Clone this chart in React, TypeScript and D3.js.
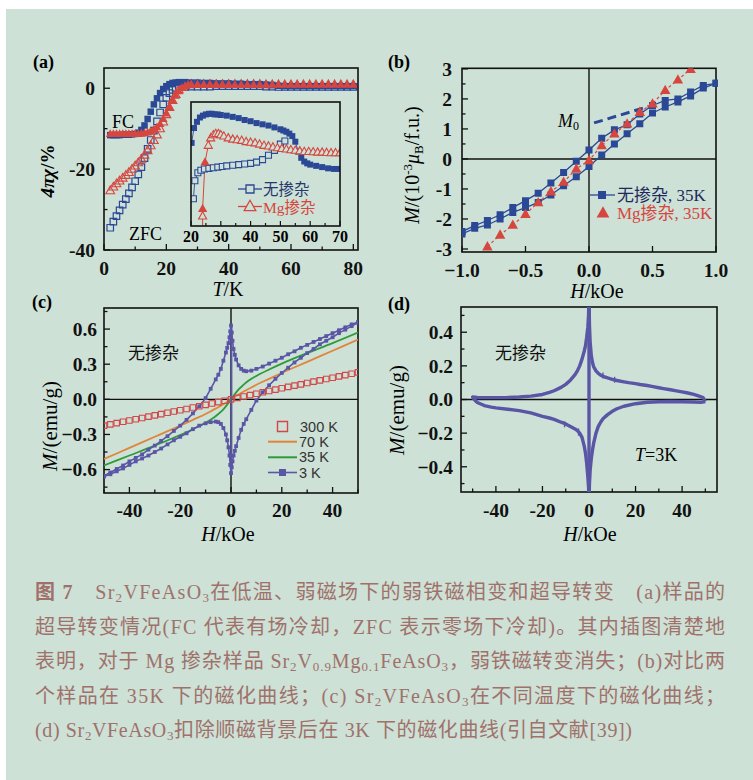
import React from "react";
import * as d3 from "d3";

// ---------- (a) 4πχ vs T ----------
const aNoneFcT = [2, 3, 4, 5, 6, 7, 8, 9, 10, 11, 12, 13, 14, 15, 16, 17, 18, 19, 20, 21, 22, 23, 24, 26, 28, 30, 32, 34, 36, 38, 40, 42, 44, 46, 48, 50, 52, 54, 56, 58, 60, 62, 64, 66, 68, 70, 72, 74, 76, 78, 80];
const aNoneFcV = [-11.6, -11.6, -11.6, -11.6, -11.5, -11.5, -11.5, -11.4, -11.3, -11, -10.3, -9.2, -7.6, -5.8, -4, -2.5, -1.2, -0.2, 0.5, 1, 1.3, 1.4, 1.5, 1.5, 1.4, 1.4, 1.3, 1.3, 1.2, 1.2, 1.2, 1.1, 1.1, 1, 1, 1, 0.9, 0.8, 0.6, 0.5, 0.5, 0.5, 0.5, 0.5, 0.5, 0.5, 0.5, 0.5, 0.5, 0.5, 0.5];
const aNoneZfcT = [2, 3, 4, 5, 6, 7, 8, 9, 10, 11, 12, 13, 14, 15, 16, 17, 18, 19, 20, 21, 22, 23, 24, 26, 28, 30, 32, 34, 36, 38, 40, 42, 44, 46, 48, 50, 52, 54, 56, 58, 60, 62, 64, 66, 68, 70, 72, 74, 76, 78, 80];
const aNoneZfcV = [-34.5, -33, -31.6, -30.2, -28.8, -27.4, -26, -24.5, -23, -21.3, -19.5, -17.3, -15, -12.8, -10.5, -8.2, -6, -4, -2.4, -1.2, -0.4, 0.1, 0.3, 0.3, 0.4, 0.4, 0.4, 0.4, 0.5, 0.5, 0.5, 0.5, 0.5, 0.5, 0.5, 0.5, 0.4, 0.4, 0.3, 0.3, 0.3, 0.3, 0.3, 0.3, 0.3, 0.3, 0.3, 0.3, 0.3, 0.3, 0.3];
const aMgFcT = [2, 3, 4, 5, 6, 7, 8, 9, 10, 11, 12, 13, 14, 15, 16, 17, 18, 19, 20, 21, 22, 23, 24, 25, 26, 27, 28, 30, 32, 34, 36, 38, 40, 42, 44, 46, 48, 50, 52, 54, 56, 58, 60, 62, 64, 66, 68, 70, 72, 74, 76, 78, 80];
const aMgFcV = [-11.3, -11.3, -11.3, -11.3, -11.3, -11.3, -11.3, -11.3, -11.3, -11.3, -11.2, -11.1, -10.9, -10.6, -10.2, -9.6, -8.8, -7.6, -6.2, -4.6, -3.1, -1.8, -0.7, 0.1, 0.6, 0.9, 1, 1, 1, 1, 1, 1, 1, 0.9, 0.9, 0.9, 0.9, 0.9, 0.9, 0.9, 0.9, 0.9, 0.9, 0.9, 0.9, 0.9, 0.9, 0.9, 0.9, 0.9, 0.9, 0.9, 0.9];
const aMgZfcT = [2, 3, 4, 5, 6, 7, 8, 9, 10, 11, 12, 13, 14, 15, 16, 17, 18, 19, 20, 21, 22, 23, 24, 25, 26, 27, 28, 30, 32, 34, 36, 38, 40, 42, 44, 46, 48, 50, 52, 54, 56, 58, 60, 62, 64, 66, 68, 70, 72, 74, 76, 78, 80];
const aMgZfcV = [-25.3, -24.4, -23.6, -22.9, -22.2, -21.5, -20.8, -20, -19.2, -18.4, -17.5, -16.5, -15.4, -14.2, -12.9, -11.5, -10, -8.3, -6.5, -4.7, -3, -1.5, -0.4, 0.3, 0.7, 0.9, 1, 1, 1, 1, 1, 1, 1, 1, 1, 1, 1, 1, 0.9, 0.9, 0.9, 0.9, 0.9, 0.9, 0.9, 0.9, 0.9, 0.9, 0.9, 0.9, 0.9, 0.9, 0.9];
const aXTicks = [0, 20, 40, 60, 80];
const aYTicks = [0, -20, -40];

// inset (arbitrary units)
const inNoneFcT = [20.2, 21, 22, 23, 24, 25, 26, 27, 28, 29, 30, 32, 34, 36, 38, 40, 42, 44, 46, 48, 50, 51, 52, 53, 54, 55, 56, 57, 58, 59, 60, 62, 64, 66, 68, 70];
const inNoneFcV = [6.7, 7.9, 8.4, 8.75, 8.9, 9, 9.05, 9.05, 9, 9, 8.95, 8.9, 8.8, 8.7, 8.55, 8.45, 8.3, 8.2, 8.1, 7.95, 7.8, 7.7, 7.6, 7.45, 7.25, 6.8, 6, 5.5, 5.2, 5.05, 4.95, 4.85, 4.75, 4.65, 4.6, 4.6];
const inNoneZfcT = [20.8, 21.3, 22.3, 23.3, 24.5, 26, 27.5, 29, 30.5, 32, 34, 36, 38, 40, 42, 44, 46, 48, 50, 51.5];
const inNoneZfcV = [2.2, 3.65, 4.3, 4.5, 4.6, 4.65, 4.7, 4.75, 4.8, 4.85, 4.9, 4.95, 5, 5.05, 5.15, 5.35, 5.7, 6.1, 6.6, 6.85];
const inMgZfcT = [23.9, 25.8, 26.6, 27.5, 28.3, 29.2, 30, 31, 32.5, 34, 35.5, 37, 38.5, 40, 41.5, 43, 44.5, 46, 47.5, 49, 50.5, 52, 53.5, 55, 56.5, 58, 59.5, 61, 62.5, 64, 65.5, 67, 68.5, 70];
const inMgZfcV = [0.8, 6.5, 7.1, 7.35, 7.45, 7.45, 7.35, 7.25, 7.1, 7, 6.95, 6.9, 6.8, 6.75, 6.7, 6.6, 6.5, 6.45, 6.37, 6.3, 6.25, 6.2, 6.15, 6.1, 6.05, 6, 6, 5.98, 5.95, 5.95, 5.92, 5.9, 5.9, 5.9];
const inMgFcT = [23.9, 24.7];
const inMgFcV = [1.4, 5.15];
const inXTicks = [20, 30, 40, 50, 60, 70];

// ---------- (b) M vs H at 35 K ----------
const bNoneUpH = [1.0, 0.9, 0.8, 0.7, 0.6, 0.5, 0.4, 0.3, 0.2, 0.1, 0.0, -0.1, -0.2, -0.3, -0.4, -0.5, -0.6, -0.7, -0.8, -0.9, -1.0];
const bNoneUpM = [2.52, 2.45, 2.23, 2.0, 1.95, 1.78, 1.5, 1.14, 0.97, 0.69, 0.3, -0.08, -0.45, -0.8, -1.14, -1.39, -1.62, -1.86, -2.05, -2.22, -2.42];
const bNoneDnH = [-1.0, -0.9, -0.8, -0.7, -0.6, -0.5, -0.4, -0.3, -0.2, -0.1, 0.0, 0.1, 0.2, 0.3, 0.4, 0.5, 0.6, 0.7, 0.8, 0.9, 1.0];
const bNoneDnM = [-2.5, -2.31, -2.2, -2.0, -1.78, -1.62, -1.45, -1.2, -0.89, -0.59, -0.25, 0.13, 0.5, 0.84, 1.17, 1.53, 1.73, 1.9, 2.1, 2.36, 2.52];
const bMgH = [-0.8, -0.7, -0.6, -0.5, -0.4, -0.3, -0.2, -0.1, 0.0, 0.1, 0.2, 0.3, 0.4, 0.5, 0.6, 0.7, 0.8];
const bMgM = [-2.92, -2.53, -2.2, -1.84, -1.45, -1.09, -0.77, -0.33, -0.05, 0.45, 0.84, 1.17, 1.56, 1.84, 2.29, 2.64, 2.99];
const bM0H = [0.04, 0.47];
const bM0M = [1.2, 1.75];
const bXTicks = [-1, -0.5, 0, 0.5, 1];
const bYTicks = [-3, -2, -1, 0, 1, 2, 3];

// ---------- (c) M vs H, several temperatures ----------
const c300H = [-50, -47.5, -45, -42.5, -40, -37.5, -35, -32.5, -30, -27.5, -25, -22.5, -20, -17.5, -15, -12.5, -10, -7.5, -5, -2.5, 0, 2.5, 5, 7.5, 10, 12.5, 15, 17.5, 20, 22.5, 25, 27.5, 30, 32.5, 35, 37.5, 40, 42.5, 45, 47.5, 50];
const c300M = [-0.225, -0.214, -0.203, -0.192, -0.181, -0.17, -0.159, -0.148, -0.137, -0.126, -0.115, -0.104, -0.093, -0.082, -0.07, -0.059, -0.047, -0.035, -0.024, -0.012, 0, 0.012, 0.024, 0.036, 0.048, 0.06, 0.071, 0.083, 0.094, 0.106, 0.117, 0.128, 0.14, 0.151, 0.162, 0.173, 0.184, 0.196, 0.207, 0.218, 0.23];
const c70H = [-50, -40, -30, -20, -15, -10, -7, -5, -3, -1.5, 0, 1.5, 3, 5, 7, 10, 15, 20, 30, 40, 50];
const c70M = [-0.51, -0.415, -0.32, -0.225, -0.175, -0.125, -0.09, -0.067, -0.042, -0.022, 0, 0.022, 0.042, 0.067, 0.09, 0.125, 0.175, 0.225, 0.32, 0.415, 0.51];
const c35H = [-50, -40, -30, -20, -15, -10, -7, -5, -3, -1.5, 0, 1.5, 3, 5, 7, 10, 15, 20, 30, 40, 50];
const c35M = [-0.565, -0.48, -0.395, -0.305, -0.255, -0.2, -0.16, -0.125, -0.085, -0.045, 0, 0.045, 0.085, 0.125, 0.16, 0.2, 0.255, 0.305, 0.395, 0.48, 0.57];
const c3DescH = [50, 47.5, 45, 42.5, 40, 37.5, 35, 32.5, 30, 27.5, 25, 22.5, 20, 17.5, 15, 12.5, 10, 8, 6, 5, 4, 3, 2, 1.5, 1, 0.6, 0.3, 0, -0.3, -0.6, -1, -1.5, -2, -3, -4, -5, -6, -8, -10, -12.5, -15, -17.5, -20, -22.5, -25, -27.5, -30, -32.5, -35, -37.5, -40, -42.5, -45, -47.5, -50];
const c3DescM = [0.66, 0.64, 0.615, 0.59, 0.565, 0.54, 0.515, 0.49, 0.465, 0.44, 0.41, 0.385, 0.355, 0.33, 0.305, 0.28, 0.26, 0.245, 0.24, 0.245, 0.26, 0.29, 0.34, 0.38, 0.43, 0.5, 0.57, 0.63, 0.58, 0.53, 0.48, 0.44, 0.4, 0.33, 0.26, 0.21, 0.17, 0.09, 0.01, -0.06, -0.12, -0.175, -0.225, -0.27, -0.315, -0.355, -0.395, -0.43, -0.47, -0.5, -0.53, -0.565, -0.595, -0.625, -0.655];
const c3AscH = [-50, -47.5, -45, -42.5, -40, -37.5, -35, -32.5, -30, -27.5, -25, -22.5, -20, -17.5, -15, -12.5, -10, -8, -6, -5, -4, -3, -2, -1.5, -1, -0.6, -0.3, 0, 0.3, 0.6, 1, 1.5, 2, 3, 4, 5, 6, 8, 10, 12.5, 15, 17.5, 20, 22.5, 25, 27.5, 30, 32.5, 35, 37.5, 40, 42.5, 45, 47.5, 50];
const c3AscM = [-0.66, -0.64, -0.615, -0.59, -0.56, -0.53, -0.505, -0.48, -0.45, -0.42, -0.385, -0.35, -0.32, -0.29, -0.255, -0.225, -0.205, -0.195, -0.19, -0.195, -0.21, -0.245, -0.3, -0.35, -0.41, -0.48, -0.56, -0.63, -0.58, -0.53, -0.48, -0.44, -0.4, -0.33, -0.26, -0.21, -0.17, -0.09, -0.01, 0.06, 0.12, 0.175, 0.225, 0.27, 0.315, 0.355, 0.395, 0.43, 0.47, 0.5, 0.53, 0.565, 0.595, 0.625, 0.655];
const c3JumpH = [0.2, 0.2];
const c3JumpM = [-0.63, 0.63];
const cXTicks = [-40, -20, 0, 20, 40];
const cYTicks = [-0.6, -0.3, 0, 0.3, 0.6];
const cLegend = ["300 K", "70 K", "35 K", "3 K"];

// ---------- (d) M vs H at 3 K, paramagnetic background removed ----------
const dDescH = [50, 49, 47, 45, 42, 40, 37, 35, 32, 30, 27, 25, 22, 20, 17, 15, 12, 10, 8, 6, 5, 4, 3, 2, 1.5, 1, 0.5, 0.2, 0, -0.2, -0.5, -1, -1.5, -2, -3, -4, -5, -6, -8, -10, -12, -15, -17, -20, -25, -30, -35, -40, -45, -48, -50];
const dDescM = [-0.012, 0.012, 0.022, 0.03, 0.04, 0.045, 0.053, 0.058, 0.065, 0.07, 0.078, 0.083, 0.089, 0.094, 0.1, 0.105, 0.113, 0.12, 0.128, 0.138, 0.145, 0.155, 0.17, 0.195, 0.22, 0.26, 0.34, 0.44, 0.6, 0.5, 0.43, 0.37, 0.32, 0.29, 0.24, 0.2, 0.17, 0.148, 0.115, 0.09, 0.072, 0.052, 0.042, 0.03, 0.02, 0.015, 0.012, 0.011, 0.011, 0.012, 0.015];
const dAscH = [-50, -49, -48, -45, -42, -40, -35, -30, -25, -20, -17, -15, -12, -10, -8, -6, -5, -4, -3, -2, -1.5, -1, -0.5, -0.2, 0, 0.2, 0.5, 1, 1.5, 2, 3, 4, 5, 6, 8, 10, 12, 15, 20, 25, 30, 35, 40, 45, 48, 50];
const dAscM = [0.015, -0.005, -0.018, -0.036, -0.045, -0.05, -0.058, -0.066, -0.08, -0.1, -0.11, -0.118, -0.135, -0.145, -0.16, -0.175, -0.185, -0.2, -0.225, -0.28, -0.32, -0.38, -0.46, -0.52, -0.6, -0.5, -0.42, -0.35, -0.3, -0.26, -0.2, -0.16, -0.135, -0.115, -0.09, -0.07, -0.055, -0.04, -0.025, -0.016, -0.013, -0.012, -0.013, -0.015, -0.017, -0.012];
const dJumpH = [0, 0];
const dJumpM = [-0.6, 0.6];
const dSpikeH = [-10.5, -4.5, 6, 11];
const dSpikeLo = [-0.165, -0.215, 0.125, 0.1];
const dSpikeHi = [-0.13, -0.172, 0.16, 0.135];
const dXTicks = [-40, -20, 0, 20, 40];
const dYTicks = [-0.4, -0.2, 0, 0.2, 0.4];

// ---------- caption ----------
type Seg = [string, string?];
const captionLines: Seg[][] = [
  [["图 7", "b"], ["　Sr"], ["2", "s"], ["VFeAsO"], ["3", "s"], ["在低温、弱磁场下的弱铁磁相变和超导转变　(a)样品的"]],
  [["超导转变情况(FC 代表有场冷却，ZFC 表示零场下冷却)。其内插图清楚地"]],
  [["表明，对于 Mg 掺杂样品 Sr"], ["2", "s"], ["V"], ["0.9", "s"], ["Mg"], ["0.1", "s"], ["FeAsO"], ["3", "s"], ["，弱铁磁转变消失；(b)对比两"]],
  [["个样品在 35K 下的磁化曲线；(c) Sr"], ["2", "s"], ["VFeAsO"], ["3", "s"], ["在不同温度下的磁化曲线；"]],
  [["(d) Sr"], ["2", "s"], ["VFeAsO"], ["3", "s"], ["扣除顺磁背景后在 3K 下的磁化曲线(引自文献[39])"]],
];
const captionWidths = [690, 690, 690, 690, 597];

const SERIF = "'Liberation Serif', 'Times New Roman', serif";
const CJK = "'Liberation Serif', 'Noto Sans CJK SC', serif";
const SANS = "'Liberation Sans', Arial, sans-serif";
const NAVY = "#2b4896";
const RED = "#d6463f";
const PURPLE = "#5a56a6";
const CAP = "#a0716b";
const TICK_FS = 19.5;

const zip = (a: number[], b: number[]) => a.map((v, i) => [v, b[i]] as [number, number]);
const sq = (cx: number, cy: number, s: number) => `M${cx - s / 2},${cy - s / 2}h${s}v${s}h${-s}Z`;
const tri = (cx: number, cy: number, s: number) =>
  `M${cx},${cy - s * 0.62}L${cx + s * 0.58},${cy + s * 0.42}L${cx - s * 0.58},${cy + s * 0.42}Z`;

type Sc = d3.ScaleLinear<number, number>;

function Axes(p: {
  x: Sc; y: Sc; xTicks: number[]; yTicks: number[]; xMinor?: number[]; yMinor?: number[];
  fmtX: (v: number) => string; fmtY: (v: number) => string; xOff: number; yOff: number;
  zero?: boolean; fs?: number;
}) {
  const [x0, x1] = p.x.range();
  const [y0, y1] = p.y.range();
  const fs = p.fs ?? TICK_FS;
  return (
    <g>
      {p.zero && (
        <g stroke="#111" strokeWidth={1.4}>
          <line x1={p.x(0)} x2={p.x(0)} y1={y0} y2={y1} />
          <line x1={x0} x2={x1} y1={p.y(0)} y2={p.y(0)} />
        </g>
      )}
      <rect x={x0} y={y1} width={x1 - x0} height={y0 - y1} fill="none" stroke="#111" strokeWidth={1.6} />
      <g stroke="#111" strokeWidth={1.3}>
        {p.xTicks.map((v) => <line key={"xt" + v} x1={p.x(v)} x2={p.x(v)} y1={y0} y2={y0 - 6} />)}
        {(p.xMinor || []).map((v) => <line key={"xm" + v} x1={p.x(v)} x2={p.x(v)} y1={y0} y2={y0 - 3.5} />)}
        {p.yTicks.map((v) => <line key={"yt" + v} x1={x0} x2={x0 + 6} y1={p.y(v)} y2={p.y(v)} />)}
        {(p.yMinor || []).map((v) => <line key={"ym" + v} x1={x0} x2={x0 + 3.5} y1={p.y(v)} y2={p.y(v)} />)}
      </g>
      <g fontFamily={SERIF} fontWeight="bold" fontSize={fs} fill="#111">
        {p.xTicks.map((v) => (
          <text key={"xl" + v} x={p.x(v)} y={y0 + p.xOff} textAnchor="middle">{p.fmtX(v)}</text>
        ))}
        {p.yTicks.map((v) => (
          <text key={"yl" + v} x={x0 - p.yOff} y={p.y(v)} dy="0.35em" textAnchor="end">{p.fmtY(v)}</text>
        ))}
      </g>
    </g>
  );
}

function Caption() {
  return (
    <g fontFamily={CJK} fontSize={20} fill={CAP}>
      {captionLines.map((segs, li) => {
        let shift = 0;
        return (
          <text key={li} x={35} y={599 + li * 34.5} textLength={captionWidths[li]} lengthAdjust="spacing">
            {segs.map(([t, k], si) => {
              let dy = 0;
              if (k === "s") { dy = 3 - shift; shift = 3; }
              else { dy = -shift; shift = 0; }
              return (
                <tspan key={si} dy={dy} fontSize={k === "s" ? 13 : undefined} fontWeight={k === "b" ? "bold" : undefined}>
                  {t}
                </tspan>
              );
            })}
          </text>
        );
      })}
    </g>
  );
}

function PanelA() {
  const x = d3.scaleLinear().domain([0, 81.5]).range([104, 358]);
  const y = d3.scaleLinear().domain([-40, 5]).range([250, 68]);
  const xi = d3.scaleLinear().domain([20, 70]).range([191, 340]);
  const yi = d3.scaleLinear().domain([0, 10]).range([226, 102]);
  const li = d3.line<[number, number]>().x((d) => xi(d[0])).y((d) => yi(d[1]));
  const mgLine = [...zip(inMgZfcT, inMgZfcV).slice(0, 1), ...zip(inMgFcT, inMgFcV), ...zip(inMgZfcT, inMgZfcV).slice(1)];
  return (
    <g>
      <text x={33} y={68} fontFamily={SERIF} fontWeight="bold" fontSize={18}>(a)</text>
      <defs>
        <clipPath id="clipA"><rect x={104} y={68} width={254} height={182} /></clipPath>
        <clipPath id="clipI"><rect x={191} y={102} width={149} height={124} /></clipPath>
      </defs>
      <g clipPath="url(#clipA)">
        {zip(aNoneZfcT, aNoneZfcV).map((d, i) => (
          <path key={"nz" + i} d={sq(x(d[0]), y(d[1]), 6.5)} fill="none" stroke={NAVY} strokeWidth={1.2} />
        ))}
        {zip(aMgZfcT, aMgZfcV).map((d, i) => (
          <path key={"mz" + i} d={tri(x(d[0]), y(d[1]), 7.5)} fill="none" stroke={RED} strokeWidth={1.1} />
        ))}
        {zip(aNoneFcT, aNoneFcV).map((d, i) => (
          <path key={"nf" + i} d={sq(x(d[0]), y(d[1]), 6.5)} fill={NAVY} />
        ))}
        {zip(aMgFcT, aMgFcV).map((d, i) => (
          <path key={"mf" + i} d={tri(x(d[0]), y(d[1]), 7.5)} fill={RED} />
        ))}
      </g>
      <Axes x={x} y={y} xTicks={aXTicks} yTicks={aYTicks} xMinor={[10, 30, 50, 70]} yMinor={[-10, -30]}
        fmtX={(v) => String(v)} fmtY={(v) => String(v)} xOff={25} yOff={9} />
      <text x={112} y={128} fontFamily={SERIF} fontSize={18}>FC</text>
      <text x={129} y={240} fontFamily={SERIF} fontSize={18}>ZFC</text>
      <text transform="translate(54,171) rotate(-90)" textAnchor="middle" fontFamily={SERIF} fontWeight="bold" fontSize={19}>
        <tspan fontStyle="italic">4πχ</tspan>/%
      </text>
      <text x={228} y={296} textAnchor="middle" fontFamily={SERIF} fontSize={20}>
        <tspan fontStyle="italic">T</tspan>/K
      </text>

      {/* inset */}
      <g clipPath="url(#clipI)">
        <path d={li(zip(inNoneFcT, inNoneFcV)) || ""} fill="none" stroke={NAVY} strokeWidth={0.9} />
        <path d={li(zip(inNoneZfcT, inNoneZfcV)) || ""} fill="none" stroke={NAVY} strokeWidth={0.9} />
        <path d={li([[inMgZfcT[0], -1], ...mgLine]) || ""} fill="none" stroke={RED} strokeWidth={1} />
        {zip(inNoneFcT, inNoneFcV).map((d, i) => <path key={"if" + i} d={sq(xi(d[0]), yi(d[1]), 6)} fill={NAVY} />)}
        {zip(inNoneZfcT, inNoneZfcV).map((d, i) => (
          <path key={"iz" + i} d={sq(xi(d[0]), yi(d[1]), 6)} fill="#cde1d6" stroke={NAVY} strokeWidth={1.1} />
        ))}
        {zip(inMgZfcT, inMgZfcV).map((d, i) => (
          <path key={"im" + i} d={tri(xi(d[0]), yi(d[1]), 7)} fill="#cde1d6" stroke={RED} strokeWidth={1.1} />
        ))}
        {zip(inMgFcT, inMgFcV).map((d, i) => <path key={"imf" + i} d={tri(xi(d[0]), yi(d[1]), 8)} fill={RED} />)}
      </g>
      <rect x={191} y={102} width={149} height={124} fill="none" stroke="#111" strokeWidth={1.6} />
      <g stroke="#111" strokeWidth={1.2}>
        {inXTicks.map((v) => <line key={"it" + v} x1={xi(v)} x2={xi(v)} y1={226} y2={221} />)}
        {[25, 35, 45, 55, 65].map((v) => <line key={"itm" + v} x1={xi(v)} x2={xi(v)} y1={226} y2={223} />)}
      </g>
      <g fontFamily={SERIF} fontWeight="bold" fontSize={16} textAnchor="middle">
        {inXTicks.map((v) => <text key={"il" + v} x={xi(v)} y={242}>{v}</text>)}
      </g>
      <line x1={238} x2={262} y1={189} y2={189} stroke={NAVY} strokeWidth={1.3} />
      <path d={sq(250, 189, 8)} fill="#cde1d6" stroke={NAVY} strokeWidth={1.3} />
      <text x={263} y={194.5} fontFamily={CJK} fontSize={15.5} fill="#28386e">无掺杂</text>
      <line x1={238} x2={262} y1={206.5} y2={206.5} stroke={RED} strokeWidth={1.3} />
      <path d={tri(250, 206.5, 10)} fill="#cde1d6" stroke={RED} strokeWidth={1.3} />
      <text x={263} y={212.5} fontFamily={CJK} fontSize={15.5} fill={RED}>Mg掺杂</text>
    </g>
  );
}

function PanelB() {
  const x = d3.scaleLinear().domain([-1, 1]).range([462, 716]);
  const y = d3.scaleLinear().domain([-3.1, 3.02]).range([252, 68.3]);
  const ln = d3.line<[number, number]>().x((d) => x(d[0])).y((d) => y(d[1]));
  return (
    <g>
      <text x={388} y={68} fontFamily={SERIF} fontWeight="bold" fontSize={18}>(b)</text>
      <defs><clipPath id="clipB"><rect x={462} y={68.3} width={256} height={183.7} /></clipPath></defs>
      <Axes x={x} y={y} xTicks={bXTicks} yTicks={bYTicks} yMinor={[-2.5, -1.5, -0.5, 0.5, 1.5, 2.5]}
        fmtX={(v) => d3.format(".1f")(v)} fmtY={(v) => String(v)} xOff={25} yOff={10} zero />
      <g clipPath="url(#clipB)">
        <path d={ln(zip(bNoneUpH, bNoneUpM)) || ""} fill="none" stroke={NAVY} strokeWidth={1.3} />
        <path d={ln(zip(bNoneDnH, bNoneDnM)) || ""} fill="none" stroke={NAVY} strokeWidth={1.3} />
        <path d={ln(zip(bMgH, bMgM)) || ""} fill="none" stroke={RED} strokeWidth={1.2} strokeDasharray="3 2.5" />
        <path d={ln(zip(bM0H, bM0M)) || ""} fill="none" stroke={NAVY} strokeWidth={3} strokeDasharray="9 5" />
        {[...zip(bNoneUpH, bNoneUpM), ...zip(bNoneDnH, bNoneDnM)].map((d, i) => (
          <path key={"bs" + i} d={sq(x(d[0]), y(d[1]), 7)} fill={NAVY} />
        ))}
        {zip(bMgH, bMgM).map((d, i) => <path key={"bt" + i} d={tri(x(d[0]), y(d[1]), 9)} fill={RED} />)}
      </g>
      <text x={558} y={127} fontFamily={SERIF} fontSize={18}>
        <tspan fontStyle="italic">M</tspan><tspan fontSize={12} dy={3}>0</tspan>
      </text>
      <line x1={590} x2={615} y1={195} y2={195} stroke={NAVY} strokeWidth={1.3} />
      <path d={sq(602, 195, 8)} fill={NAVY} />
      <text x={617} y={200.5} fontFamily={CJK} fontSize={17} fill="#1f2a5c">无掺杂, 35K</text>
      <path d={tri(603, 213, 11)} fill={RED} />
      <text x={617} y={219} fontFamily={CJK} fontSize={17} fill={RED}>Mg掺杂, 35K</text>
      <text transform="translate(419,165) rotate(-90)" textAnchor="middle" fontFamily={SERIF} fontSize={20}>
        <tspan fontStyle="italic">M</tspan>/(10<tspan fontSize={13} dy={-7}>-3</tspan>
        <tspan fontStyle="italic" dy={7}>μ</tspan><tspan fontSize={13} dy={4}>B</tspan>
        <tspan dy={-4}>/f.u.)</tspan>
      </text>
      <text x={597} y={298} textAnchor="middle" fontFamily={SERIF} fontSize={20}>
        <tspan fontStyle="italic">H</tspan>/kOe
      </text>
    </g>
  );
}

function PanelC() {
  const x = d3.scaleLinear().domain([-50, 50]).range([104, 358]);
  const y = d3.scaleLinear().domain([-0.8, 0.78]).range([493, 308]);
  const ln = d3.line<[number, number]>().x((d) => x(d[0])).y((d) => y(d[1]));
  const lnC = d3.line<[number, number]>().x((d) => x(d[0])).y((d) => y(d[1])).curve(d3.curveMonotoneX);
  const pts3 = [...zip(c3DescH, c3DescM), ...zip(c3AscH, c3AscM)];
  return (
    <g>
      <text x={32} y={308} fontFamily={SERIF} fontWeight="bold" fontSize={18}>(c)</text>
      <defs><clipPath id="clipC"><rect x={104} y={308} width={254} height={185} /></clipPath></defs>
      <Axes x={x} y={y} xTicks={cXTicks} yTicks={cYTicks} xMinor={[-50, -30, -10, 10, 30, 50]}
        yMinor={[-0.75, -0.45, -0.15, 0.15, 0.45, 0.75]}
        fmtX={(v) => String(v)} fmtY={(v) => d3.format(".1f")(v)} xOff={24} yOff={7} zero />
      <g clipPath="url(#clipC)">
        <path d={lnC(zip(c70H, c70M)) || ""} fill="none" stroke="#e0853a" strokeWidth={1.8} />
        <path d={lnC(zip(c35H, c35M)) || ""} fill="none" stroke="#2f9a3c" strokeWidth={1.8} />
        <path d={ln(zip(c3DescH, c3DescM)) || ""} fill="none" stroke={PURPLE} strokeWidth={1.6} />
        <path d={ln(zip(c3AscH, c3AscM)) || ""} fill="none" stroke={PURPLE} strokeWidth={1.6} />
        <path d={ln(zip(c3JumpH, c3JumpM)) || ""} fill="none" stroke={PURPLE} strokeWidth={1.8} />
        {pts3.map((d, i) => <path key={"c3" + i} d={sq(x(d[0]), y(d[1]), 3.8)} fill={PURPLE} />)}
        {zip(c300H, c300M).map((d, i) => (
          <path key={"c300" + i} d={sq(x(d[0]), y(d[1]), 5.5)} fill="none" stroke="#d24848" strokeWidth={1.1} />
        ))}
      </g>
      <text x={128} y={359} fontFamily={CJK} fontSize={17} fill="#111">无掺杂</text>
      {/* legend */}
      <path d={sq(282.5, 426.5, 10)} fill="none" stroke="#d24848" strokeWidth={1.4} />
      <line x1={268} x2={297} y1={441.7} y2={441.7} stroke="#e0853a" strokeWidth={2} />
      <line x1={268} x2={297} y1={457.3} y2={457.3} stroke="#2f9a3c" strokeWidth={2} />
      <line x1={268} x2={297} y1={472.5} y2={472.5} stroke={PURPLE} strokeWidth={1.6} />
      <path d={sq(282.5, 472.5, 7)} fill={PURPLE} />
      <g fontFamily={SANS} fontSize={14.5} fill="#333">
        {cLegend.map((t, i) => (
          <text key={t} x={i === 0 ? 300 : 299} y={431.5 + [0, 15.2, 30.8, 46][i]}>{t}</text>
        ))}
      </g>
      <text transform="translate(57,426) rotate(-90)" textAnchor="middle" fontFamily={SERIF} fontSize={21}>
        <tspan fontStyle="italic">M</tspan>/(emu/g)
      </text>
      <text x={228} y={541} textAnchor="middle" fontFamily={SERIF} fontSize={20}>
        <tspan fontStyle="italic">H</tspan>/kOe
      </text>
    </g>
  );
}

function PanelD() {
  const x = d3.scaleLinear().domain([-55, 55]).range([461, 717]);
  const y = d3.scaleLinear().domain([-0.55, 0.55]).range([492, 307]);
  const ln = d3.line<[number, number]>().x((d) => x(d[0])).y((d) => y(d[1]));
  const loop = [...zip(dDescH, dDescM), ...zip(dAscH, dAscM)];
  return (
    <g>
      <text x={388} y={310} fontFamily={SERIF} fontWeight="bold" fontSize={18}>(d)</text>
      <defs><clipPath id="clipD"><rect x={461} y={307} width={256} height={185} /></clipPath></defs>
      <Axes x={x} y={y} xTicks={dXTicks} yTicks={dYTicks} xMinor={[-50, -30, -10, 10, 30, 50]}
        yMinor={[-0.5, -0.3, -0.1, 0.1, 0.3, 0.5]}
        fmtX={(v) => String(v)} fmtY={(v) => d3.format(".1f")(v)} xOff={25} yOff={8} zero />
      <g clipPath="url(#clipD)" fill="none" stroke={PURPLE} strokeLinejoin="round">
        <path d={ln(loop) || ""} strokeWidth={3.4} />
        <path d={ln(zip(dJumpH, dJumpM)) || ""} strokeWidth={3.4} />
        {dSpikeH.map((h, i) => (
          <line key={"sp" + i} x1={x(h)} x2={x(h)} y1={y(dSpikeLo[i])} y2={y(dSpikeHi[i])} strokeWidth={1.4} />
        ))}
      </g>
      <text x={495} y={359} fontFamily={CJK} fontSize={17} fill="#111">无掺杂</text>
      <text x={635} y={461} fontFamily={SERIF} fontSize={18}>
        <tspan fontStyle="italic">T</tspan>=3K
      </text>
      <text transform="translate(404,410) rotate(-90)" textAnchor="middle" fontFamily={SERIF} fontSize={21}>
        <tspan fontStyle="italic">M</tspan>/(emu/g)
      </text>
      <text x={590} y={541} textAnchor="middle" fontFamily={SERIF} fontSize={20}>
        <tspan fontStyle="italic">H</tspan>/kOe
      </text>
    </g>
  );
}

export default function App() {
  return (
    <div style={{ position: "absolute", left: 0, top: 0 }}>
      <svg width={753} height={780} style={{ display: "block" }}>
        <rect x={0} y={0} width={753} height={780} fill="#ffffff" />
        <rect x={6} y={9} width={747} height={771} fill="#cde1d6" />
        <PanelA />
        <PanelB />
        <PanelC />
        <PanelD />
        <Caption />
      </svg>
    </div>
  );
}
